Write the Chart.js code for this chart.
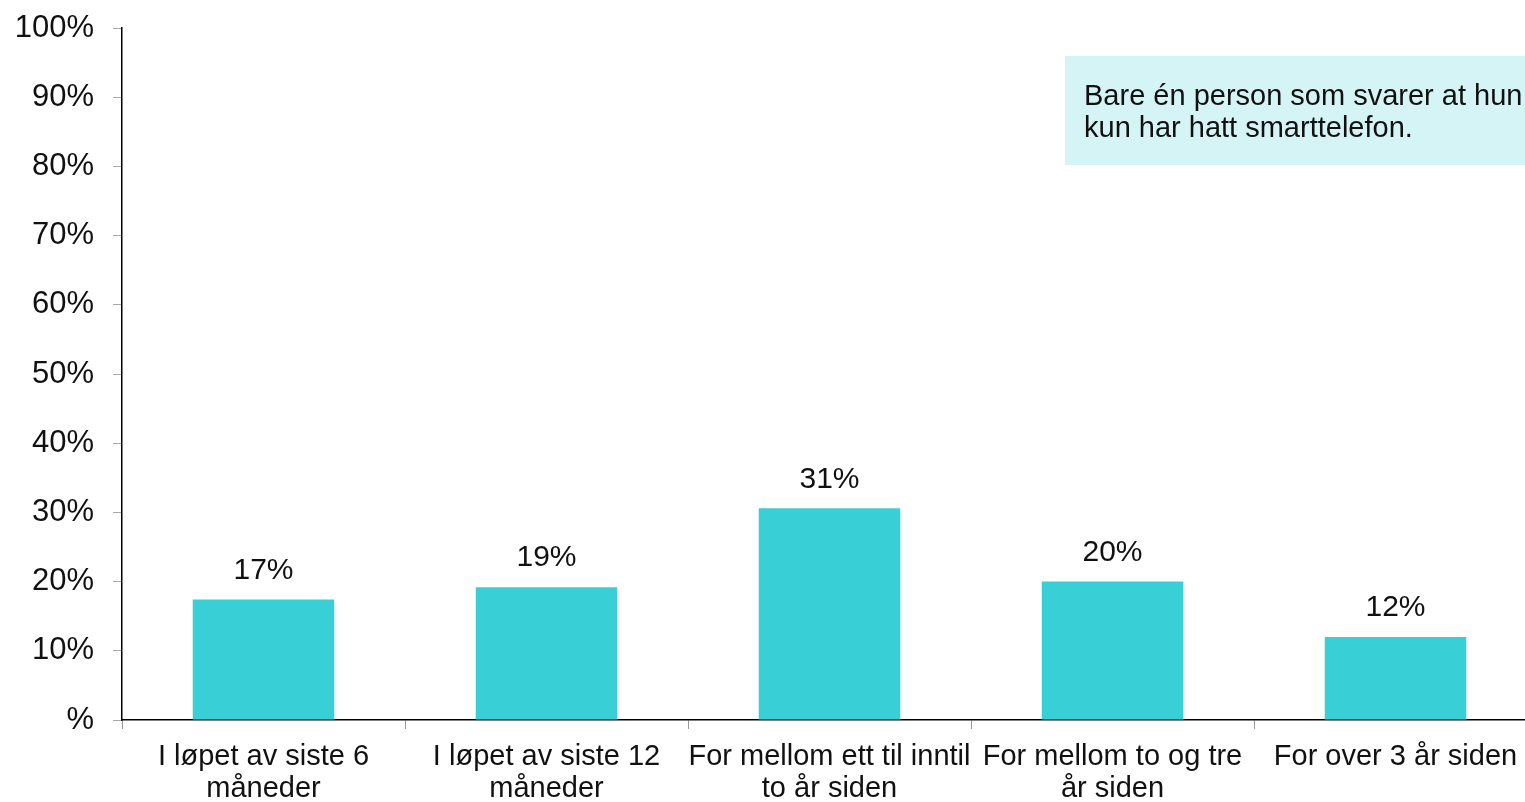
<!DOCTYPE html>
<html>
<head>
<meta charset="utf-8">
<script src="https://cdn.jsdelivr.net/npm/chart.js@4.4.1/dist/chart.umd.min.js"></script>
<style>
  html, body { margin: 0; padding: 0; background: #fff; overflow: hidden; }
  canvas { display: block; }
</style>
</head>
<body>
<canvas id="chart" width="1540" height="802"></canvas>
<script>
const categories = [
  ["I løpet av siste 6", "måneder"],
  ["I løpet av siste 12", "måneder"],
  ["For mellom ett til inntil", "to år siden"],
  ["For mellom to og tre", "år siden"],
  ["For over 3 år siden"]
];
const values = [17.4, 19.2, 30.6, 20.0, 12.0];
const yTickLabels = ["%", "10%", "20%", "30%", "40%", "50%", "60%", "70%", "80%", "90%", "100%"];
const noteLines = ["Bare én person som svarer at hun", "kun har hatt smarttelefon."];

const FONT = "'Liberation Sans', Arial, sans-serif";

// value labels above each bar
const barLabels = {
  id: "barLabels",
  afterDatasetsDraw(chart) {
    const ctx = chart.ctx;
    const meta = chart.getDatasetMeta(0);
    ctx.save();
    ctx.font = "30px " + FONT;
    ctx.fillStyle = "#111";
    ctx.textAlign = "center";
    ctx.textBaseline = "middle";
    meta.data.forEach((bar, i) => {
      ctx.fillText(Math.round(values[i]) + "%", bar.x, bar.y - 29);
    });
    ctx.restore();
  }
};

// note box in the top right corner
const noteBox = {
  id: "noteBox",
  afterDraw(chart) {
    const ctx = chart.ctx;
    ctx.save();
    ctx.fillStyle = "#d5f4f6";
    ctx.fillRect(1065, 56, 480, 109);
    ctx.font = "29px " + FONT;
    ctx.fillStyle = "#111";
    ctx.textBaseline = "middle";
    ctx.fillText(noteLines[0], 1084, 97);
    ctx.fillText(noteLines[1], 1084, 129);
    ctx.restore();
  }
};

new Chart(document.getElementById("chart"), {
  type: "bar",
  data: {
    labels: categories,
    datasets: [{
      data: values,
      backgroundColor: "#38cfd6",
      categoryPercentage: 1,
      barPercentage: 0.5
    }]
  },
  options: {
    responsive: false,
    animation: false,
    layout: { padding: { top: 28, right: 3, left: 0, bottom: 0 } },
    plugins: { legend: { display: false }, tooltip: { enabled: false } },
    scales: {
      x: {
        offset: true,
        grid: {
          display: true,
          drawOnChartArea: false,
          offset: true,
          tickLength: 9,
          color: "#999"
        },
        border: { color: "#000", width: 1.5 },
        ticks: {
          color: "#111",
          font: { size: 29, family: FONT, lineHeight: 1.1 },
          padding: 12,
          maxRotation: 0,
          autoSkip: false
        },
        afterFit(scale) {
          scale.height = 82;
          scale.paddingLeft = 0;
          scale.paddingRight = 0;
        }
      },
      y: {
        min: 0,
        max: 100,
        grid: {
          display: true,
          drawOnChartArea: false,
          tickLength: 9,
          color: "#aaa"
        },
        border: { color: "#000", width: 1.5 },
        ticks: {
          stepSize: 10,
          color: "#111",
          font: { size: 31, family: FONT },
          padding: 19,
          callback: (v, i) => yTickLabels[i]
        },
        afterFit(scale) {
          scale.width = 122;
          scale.paddingTop = 0;
          scale.paddingBottom = 0;
        }
      }
    }
  },
  plugins: [barLabels, noteBox]
});
</script>
</body>
</html>
